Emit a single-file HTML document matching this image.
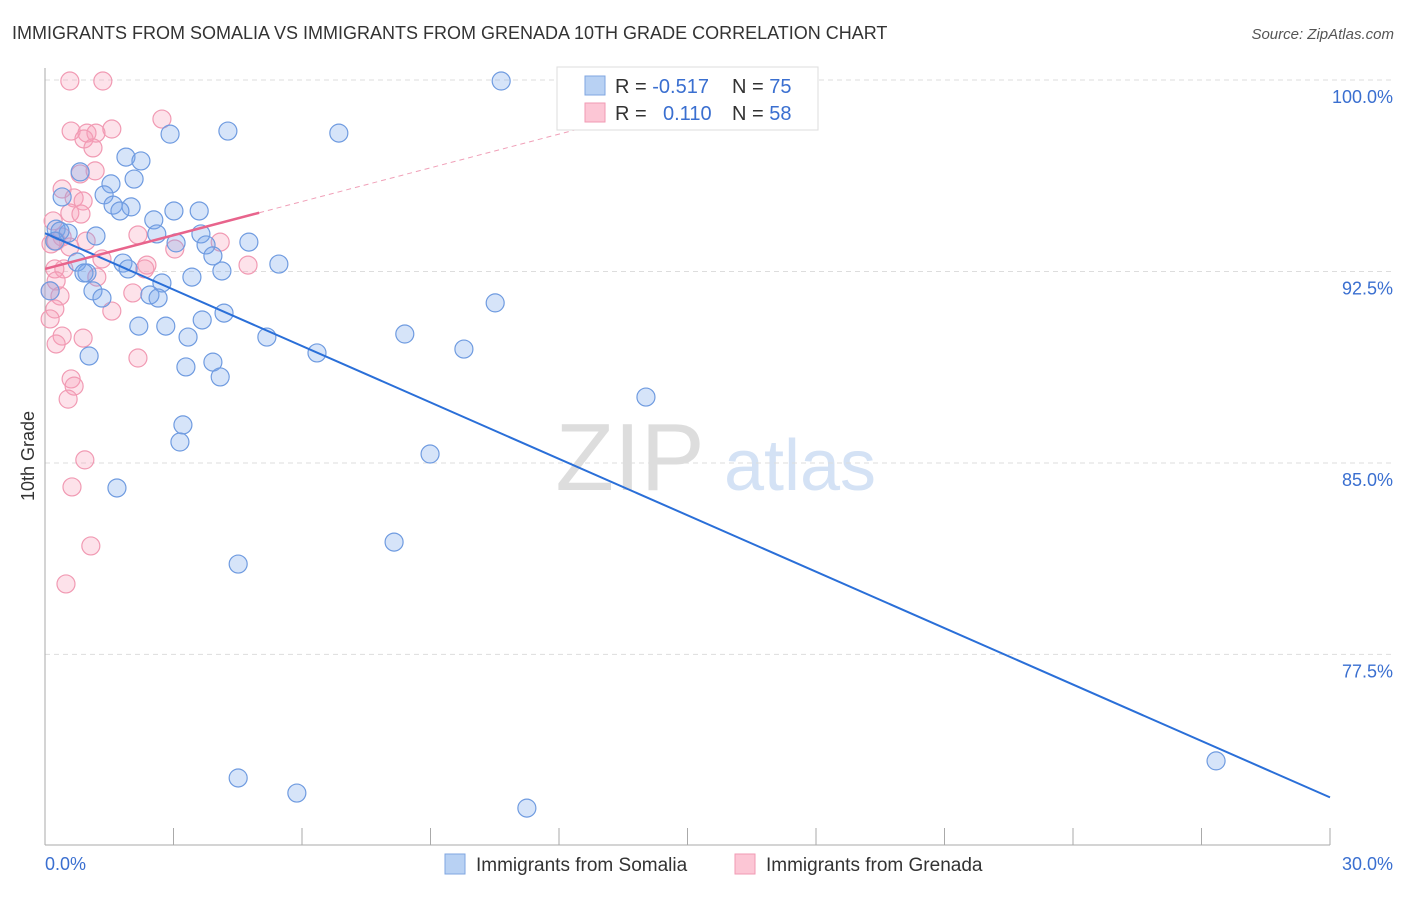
<!DOCTYPE html>
<html><head><meta charset="utf-8"><style>
body{margin:0;background:#fff;font-family:"Liberation Sans",sans-serif;}
svg text{font-family:"Liberation Sans",sans-serif;}
</style></head><body>
<svg id="chart" width="1406" height="892" xmlns="http://www.w3.org/2000/svg">
<text x="12" y="39" font-size="18" fill="#333">IMMIGRANTS FROM SOMALIA VS IMMIGRANTS FROM GRENADA 10TH GRADE CORRELATION CHART</text>
<text x="1394" y="39" font-size="15" fill="#555" font-style="italic" text-anchor="end">Source: ZipAtlas.com</text>
<g>
<text x="630" y="490" font-size="96" fill="#ddd" font-family="Liberation Serif,serif" text-anchor="middle">ZIP</text>
<text x="800" y="490" font-size="72" fill="#d4e2f5" text-anchor="middle">atlas</text>
</g>
<g id="grid"></g>
<g id="axes"></g>
<g id="pts"></g>
<g id="lines"></g>
<text transform="translate(34,456) rotate(-90)" font-size="18" fill="#333" text-anchor="middle">10th Grade</text>
<g>
<rect x="557" y="67" width="261" height="63" fill="#fff" stroke="#ddd"/>
<rect x="585" y="76" width="20" height="19" fill="#b8d1f3" stroke="#7fa6e0"/>
<rect x="585" y="103" width="20" height="19" fill="#fcc6d5" stroke="#f19ab3"/>
<text x="615" y="93" font-size="20" fill="#333">R = <tspan fill="#3a6fd0">-0.517</tspan></text>
<text x="732" y="93" font-size="20" fill="#333">N = <tspan fill="#3a6fd0">75</tspan></text>
<text x="615" y="120" font-size="20" fill="#333">R = <tspan fill="#3a6fd0" x="663">0.110</tspan></text>
<text x="732" y="120" font-size="20" fill="#333">N = <tspan fill="#3a6fd0">58</tspan></text>
</g>
<g>
<rect x="445" y="854" width="20" height="20" fill="#b8d1f3" stroke="#7fa6e0"/>
<text x="476" y="871" font-size="19" fill="#333">Immigrants from Somalia</text>
<rect x="735" y="854" width="20" height="20" fill="#fcc6d5" stroke="#f19ab3"/>
<text x="766" y="871" font-size="19" fill="#333">Immigrants from Grenada</text>
</g>
</svg>
<script>
const yTicks=[100,92.5,85,77.5];
const yTickLabels=["100.0%","92.5%","85.0%","77.5%"];
const xTickLabels=["0.0%","30.0%"];
const somaliaX=[10.65,4.27,2.92,6.86,1.89,2.24,0.82,2.08,1.54,0.40,1.38,1.59,2.01,1.75,3.01,3.60,2.54,0.26,0.54,1.19,2.61,3.06,3.64,3.76,4.76,3.92,5.46,1.82,1.94,0.75,0.98,0.91,2.73,3.43,4.13,1.12,1.33,2.45,2.64,2.19,2.82,3.67,4.18,3.34,5.18,10.51,8.40,9.78,6.35,1.03,3.29,3.92,4.09,14.03,3.22,3.15,8.99,1.68,8.15,4.51,27.34,4.51,5.88,11.25,0.12,0.35,0.23];
const somaliaY=[99.96,98.0,97.88,97.92,96.98,96.83,96.4,96.12,95.93,95.42,95.5,95.1,95.03,94.87,94.87,94.87,94.52,94.16,94.0,93.89,93.97,93.62,93.97,93.54,93.65,93.11,92.79,92.83,92.6,92.87,92.44,92.44,92.05,92.28,92.52,91.74,91.46,91.58,91.46,90.36,90.36,90.6,90.87,89.93,89.93,91.27,90.05,89.46,89.31,89.19,88.76,88.95,88.37,87.58,86.49,85.82,85.35,84.02,81.9,81.04,73.33,72.66,72.07,71.48,91.74,94.08,93.69];
const grenadaX=[0.58,1.35,2.73,0.61,1.56,0.98,1.19,0.91,1.12,0.82,1.17,0.40,0.68,0.89,0.58,0.84,0.19,0.40,0.14,0.26,0.96,2.17,3.03,4.09,4.74,2.38,1.33,1.21,0.44,0.23,0.12,0.35,2.05,1.56,0.23,0.40,0.89,0.12,0.26,2.17,0.61,0.68,0.54,0.93,0.63,1.07,0.49,2.33,0.26,0.58];
const grenadaY=[99.96,99.96,98.47,98.0,98.08,97.92,97.92,97.69,97.34,96.32,96.44,95.73,95.38,95.26,94.79,94.75,94.48,93.85,93.58,93.69,93.69,93.93,93.38,93.65,92.75,92.75,92.99,92.28,92.6,92.6,91.74,91.54,91.66,90.95,91.03,89.97,89.89,90.64,89.66,89.11,88.29,88.01,87.5,85.12,84.06,81.75,80.26,92.6,92.13,93.46];
const somaliaTrend=[94.0,71.9];
const grenadaTrend=[92.6,0.44,5.0];
const X0=45,X1=1330,Y100=80,PX=25.53;
const xs=v=>X0+(v/30)*(X1-X0);
const ys=v=>Y100+(100-v)*PX;
const NS="http://www.w3.org/2000/svg";
function mk(tag,attrs,parent){const e=document.createElementNS(NS,tag);for(const k in attrs)e.setAttribute(k,attrs[k]);parent.appendChild(e);return e;}
const grid=document.getElementById('grid'),axes=document.getElementById('axes');
yTicks.forEach((t,i)=>{
 const l=mk('line',{x1:X0,x2:1393,y1:ys(t),y2:ys(t),stroke:'#ddd','stroke-dasharray':'5,4'},grid);
 
 
 const tx=mk('text',{x:1393,y:ys(t)+23,'font-size':18,fill:'#3a6fd0','text-anchor':'end'},axes);
 tx.textContent=yTickLabels[i];
 
 
});
mk('line',{x1:X0,x2:X0,y1:68,y2:845,stroke:'#aaa'},axes);
mk('line',{x1:X0,x2:X1,y1:845,y2:845,stroke:'#aaa'},axes);
for(let i=1;i<=10;i++){mk('line',{x1:xs(i*3),x2:xs(i*3),y1:828,y2:845,stroke:'#aaa'},axes);}
const xl0=mk('text',{x:45,y:870,'font-size':18,fill:'#3a6fd0'},axes);xl0.textContent=xTickLabels[0];


const xl1=mk('text',{x:1393,y:870,'font-size':18,fill:'#3a6fd0','text-anchor':'end'},axes);xl1.textContent=xTickLabels[1];


const pts=document.getElementById('pts');
grenadaX.forEach((x,i)=>{const c=mk('circle',{cx:xs(x),cy:ys(grenadaY[i]),r:9,fill:'rgba(248,160,185,0.3)',stroke:'#f19ab3','stroke-width':1.2},pts);
 
 });
somaliaX.forEach((x,i)=>{const c=mk('circle',{cx:xs(x),cy:ys(somaliaY[i]),r:9,fill:'rgba(120,165,235,0.3)',stroke:'#6f9be0','stroke-width':1.2},pts);
 
 });
const lines=document.getElementById('lines');
const sl=mk('line',{x1:xs(0),y1:ys(somaliaTrend[0]),x2:xs(30),y2:ys(somaliaTrend[1]),stroke:'#2a6fd8','stroke-width':2},lines);


const gEnd=(100-grenadaTrend[0])/grenadaTrend[1];
const gd=mk('line',{x1:xs(grenadaTrend[2]),y1:ys(grenadaTrend[0]+grenadaTrend[1]*grenadaTrend[2]),x2:xs(gEnd),y2:ys(100),stroke:'#f0a0b8','stroke-width':1,'stroke-dasharray':'5,4'},lines);


const gl=mk('line',{x1:xs(0),y1:ys(grenadaTrend[0]),x2:xs(grenadaTrend[2]),y2:ys(grenadaTrend[0]+grenadaTrend[1]*grenadaTrend[2]),stroke:'#e8648c','stroke-width':2.5},lines);


</script>
</body></html>
